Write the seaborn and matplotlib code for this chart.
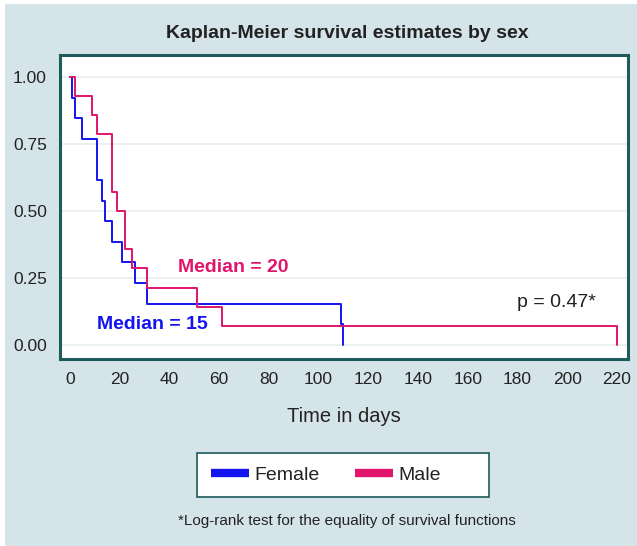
import numpy as np
import pandas as pd
import matplotlib
matplotlib.use("Agg")
import matplotlib.pyplot as plt
from matplotlib.lines import Line2D
from matplotlib.patches import Rectangle
import seaborn as sns

# ── Data ─────────────────────────────────────────────────────────────────────
female_time = [0, 1, 2, 5, 11, 13, 14, 17, 21, 26, 31, 109, 110]
female_surv = [1.0, 0.923, 0.846, 0.769, 0.615, 0.538, 0.462, 0.385, 0.308, 0.231, 0.154, 0.077, 0.0]
male_time = [0, 2, 9, 11, 17, 19, 22, 25, 31, 51, 61, 220]
male_surv = [1.0, 0.929, 0.857, 0.786, 0.571, 0.5, 0.357, 0.286, 0.214, 0.143, 0.071, 0.0]
groups = ["Female", "Male"]
x_ticks = list(range(0, 221, 20))
y_ticks = [0.0, 0.25, 0.5, 0.75, 1.0]

BG = "#d5e4e9"
TEAL = "#1d5b5c"
BLUE = "#1414f0"
PINK = "#e0156b"
INK = "#222222"

df = pd.concat([
    pd.DataFrame({"time": female_time, "surv": female_surv, "sex": "Female"}),
    pd.DataFrame({"time": male_time, "surv": male_surv, "sex": "Male"}),
], ignore_index=True)

sns.set_style("white")
plt.rcParams["font.family"] = ["Liberation Sans", "DejaVu Sans"]

fig = plt.figure(figsize=(6.37, 5.46), dpi=100, facecolor="white")
# light blue panel with a thin white margin at top/left
fig.patches.append(Rectangle((5 / 637, 0), 1, 1 - 4 / 546, transform=fig.transFigure,
                             facecolor=BG, edgecolor="none", zorder=-10))

ax = fig.add_axes([60 / 637, 187 / 546, 568 / 637, 304 / 546])
ax.set_facecolor("white")

sns.lineplot(data=df, x="time", y="surv", hue="sex", hue_order=groups,
             palette={"Female": BLUE, "Male": PINK}, drawstyle="steps-post",
             estimator=None, linewidth=1.4, legend=False, ax=ax)

ax.set_xlim(-4, 224.5)
ax.set_ylim(-0.052, 1.082)
ax.set_xticks(x_ticks)
ax.set_yticks(y_ticks)
ax.set_yticklabels([f"{v:.2f}" for v in y_ticks])
ax.grid(axis="y", color="#e8eff1", linewidth=1.2)
ax.set_axisbelow(True)
for s in ax.spines.values():
    s.set_color(TEAL)
    s.set_linewidth(2.2)
ax.tick_params(axis="both", direction="out", length=6, width=2, color=TEAL,
               labelsize=12.5, labelcolor=INK)
ax.set_xlabel("Time in days", fontsize=14.5, color=INK, labelpad=14)
ax.set_ylabel("")

ax.text(43.5, 0.29, "Median = 20", color=PINK, fontsize=14, fontweight="bold", va="center")
ax.text(11, 0.075, "Median = 15", color=BLUE, fontsize=14, fontweight="bold", va="center")
ax.text(180, 0.16, "p = 0.47*", color=INK, fontsize=14, va="center")

fig.text(0.545, 1 - 33 / 546, "Kaplan-Meier survival estimates by sex", ha="center",
         va="center", fontsize=14, fontweight="bold", color=INK)

# legend: Stata-style box with equal-width columns
fig.patches.append(Rectangle((197 / 637, 49 / 546), 292 / 637, 44 / 546,
                             transform=fig.transFigure, facecolor="white",
                             edgecolor=TEAL, linewidth=1.2, zorder=1))
handles = [Line2D([], [], color=BLUE, linewidth=6, solid_capstyle="butt"),
           Line2D([], [], color=PINK, linewidth=6, solid_capstyle="butt")]
leg = fig.legend(handles, groups, loc="center left", bbox_to_anchor=(211 / 637, 0.130),
                 ncol=2, fontsize=14, frameon=False, handlelength=1.95,
                 columnspacing=1.8, borderpad=0, handletextpad=0.3, borderaxespad=0)
leg.set_zorder(2)
for t in leg.get_texts():
    t.set_color(INK)

fig.text(0.545, 1 - 521 / 546, "*Log-rank test for the equality of survival functions",
         ha="center", va="center", fontsize=11, color=INK)

plt.savefig("out.png", dpi=100, facecolor="white")
